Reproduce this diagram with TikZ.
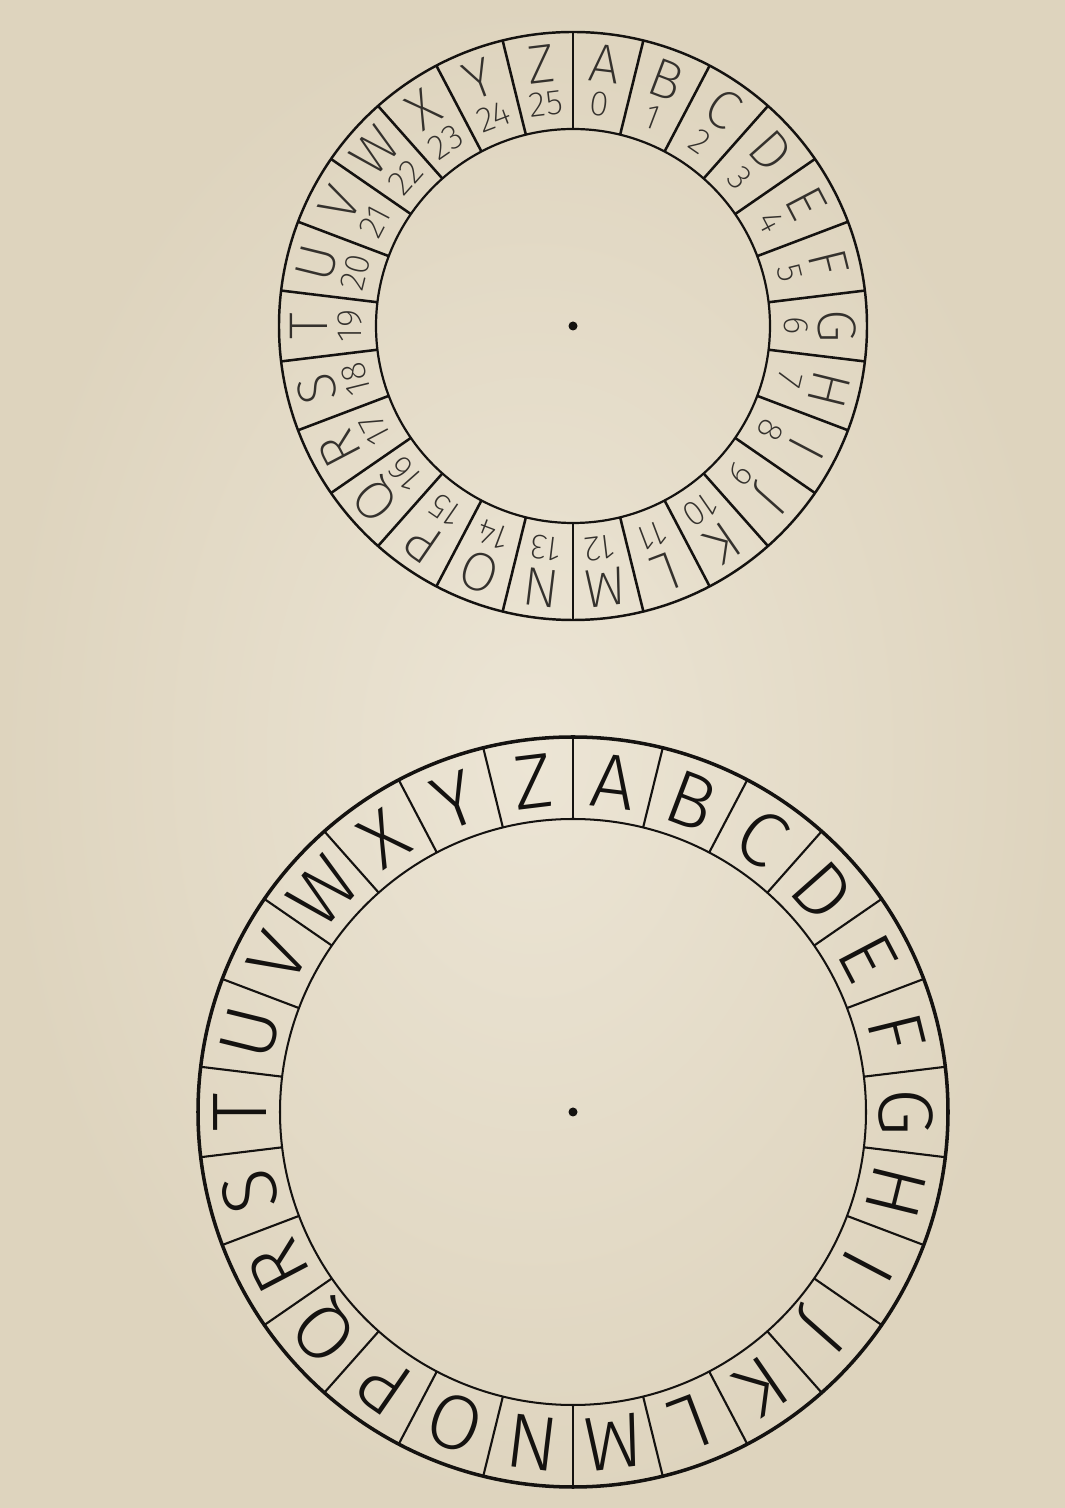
\documentclass[tikz,border=0pt]{standalone}
\usepackage{fontspec}
\usepackage{xcolor}
\usepackage{tikz}
\setsansfont{Fira Sans Light}
\newfontfamily\wheelthin{Fira Sans ExtraLight}
\definecolor{Ink}{HTML}{141210}
\definecolor{Pencil}{HTML}{34312D}
\definecolor{Paper}{HTML}{ECE5D5}
\definecolor{PaperEdge}{HTML}{DED4BE}

\begin{document}
\begin{tikzpicture}[
  x=0.2mm, y=0.2mm,
  font=\sffamily,
  rim/.style={draw=Ink, line width=1.4pt},
  hub/.style={draw=Ink, line width=1.25pt},
  spoke/.style={draw=Ink, line width=1.45pt},
  thinletter/.style={font=\wheelthin\fontsize{31}{31}\selectfont, text=Pencil, inner sep=0pt, text height=21.4pt, text depth=0pt},
  digit/.style={font=\wheelthin\fontsize{20}{20}\selectfont, text=Pencil, inner sep=0pt, text height=13.8pt, text depth=0pt},
  boldletter/.style={font=\sffamily\fontsize{44}{44}\selectfont, text=Ink, inner sep=0pt, text height=30.3pt, text depth=0pt},
  pin/.style={fill=Ink}
]
\useasboundingbox (0,0) rectangle (1065,1508);
\fill[inner color=Paper, outer color=PaperEdge] (0,0) rectangle (1065,1508);

\begin{scope}[shift={(573,1182)}]
  \draw[rim] (0,0) circle (294);
  \draw[hub] (0,0) circle (197);
  \foreach \i in {0,...,25}
    \draw[spoke] (90-\i*360/26:197) -- (90-\i*360/26:294);
  \foreach \l [count=\i from 0] in {A,...,Z} {
    \pgfmathsetmacro\ang{90-(\i+0.5)*360/26}
    \node[thinletter, rotate=\ang-90] (top-\l) at (\ang:264) {\l};
    \node[digit, rotate=\ang-90] (top-\i) at (\ang:224) {\i};
  }
  \fill[pin] (0,0) circle (4.5);
\end{scope}

\begin{scope}[shift={(573,396)}]
  \draw[rim, line width=2pt] (0,0) circle (375);
  \draw[hub, line width=1.15pt] (0,0) circle (293);
  \foreach \i in {0,...,25}
    \draw[spoke, line width=1.2pt] (90-\i*360/26:293) -- (90-\i*360/26:375);
  \foreach \l [count=\i from 0] in {A,...,Z} {
    \pgfmathsetmacro\ang{90-(\i+0.5)*360/26}
    \node[boldletter, rotate=\ang-90] (bot-\l) at (\ang:333) {\l};
  }
  \fill[pin] (0,0) circle (4.5);
\end{scope}
\end{tikzpicture}
\end{document}
